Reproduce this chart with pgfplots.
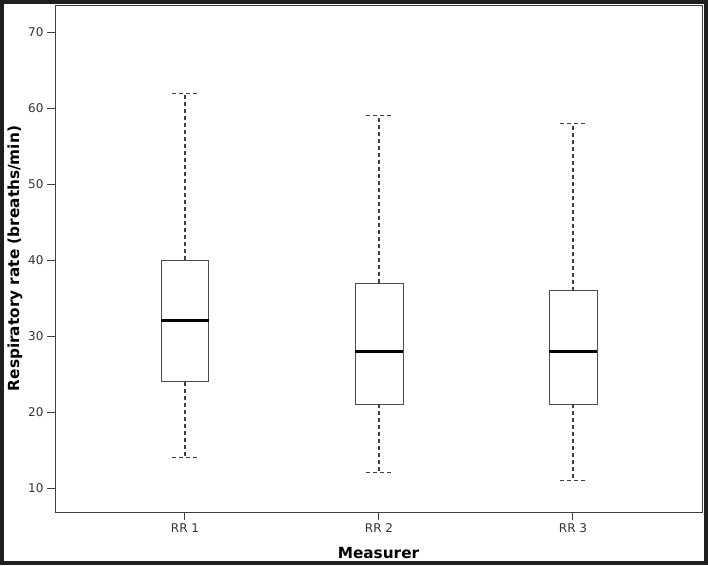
\documentclass[border=0pt]{standalone}
\usepackage{fontspec}
\setmainfont{DejaVu Sans}
\usepackage{pgfplots}
\pgfplotsset{compat=1.18}
\usepgfplotslibrary{statistics}

\begin{document}
\begin{tikzpicture}
% whole picture: 708 x 565, axis box lower left at origin
\path[use as bounding box] (-55pt,-53pt) rectangle (653pt,512pt);
\begin{axis}[
    scale only axis,
    width=647pt, height=507pt,
    xmin=0.33, xmax=3.665,
    ymin=6.84, ymax=73.6,
    xtick={1,2,3},
    xticklabels={RR 1,RR 2,RR 3},
    ytick={10,20,...,70},
    tick align=outside,
    tick pos=left,
    major tick length=8pt,
    axis line style={black!75, line width=0.8pt},
    tick style={black!75, line width=1pt},
    ticklabel style={font=\fontsize{12}{14}\selectfont, text=black!80},
    /pgf/number format/assume math mode=true,
    xlabel={Measurer},
    ylabel={Respiratory rate (breaths/min)},
    label style={font=\fontsize{15.3}{18}\selectfont\bfseries},
    xlabel style={at={(axis description cs:0.5,-0.08)}, anchor=center},
    ylabel style={at={(axis description cs:-0.062,0.5)}, anchor=center},
    boxplot/draw direction=y,
    boxplot/box extend=0.247,
    boxplot/whisker extend=0.13,
    boxplot/every box/.style={draw=black!70, line width=0.9pt, solid},
    boxplot/every whisker/.style={draw=black!75, line width=1.1pt, dash pattern=on 4pt off 3pt},
    boxplot/every median/.style={draw=black, line width=3pt, solid},
]
% RR 1
\addplot+[black, mark=none, fill=none, boxplot prepared={draw position=1,
    lower whisker=14, lower quartile=24, median=32,
    upper quartile=40, upper whisker=62}] coordinates {};
% RR 2
\addplot+[black, mark=none, fill=none, boxplot prepared={draw position=2,
    lower whisker=12, lower quartile=21, median=28,
    upper quartile=37, upper whisker=59}] coordinates {};
% RR 3
\addplot+[black, mark=none, fill=none, boxplot prepared={draw position=3,
    lower whisker=11, lower quartile=21, median=28,
    upper quartile=36, upper whisker=58}] coordinates {};
\end{axis}
% dark frame round the picture
\draw[black!88, line width=4pt] (-53pt,-51pt) rectangle (651pt,510pt);
\end{tikzpicture}
\end{document}
